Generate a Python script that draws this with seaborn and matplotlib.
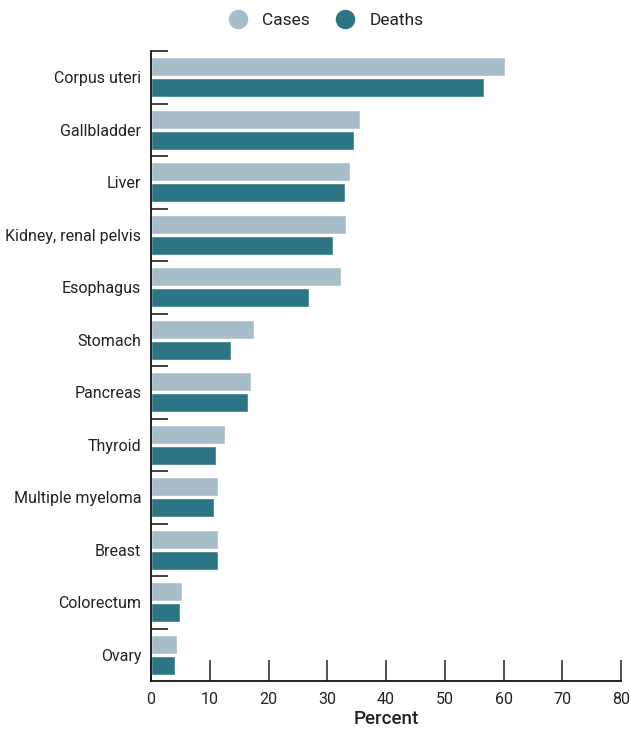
import matplotlib
matplotlib.use("Agg")
import matplotlib.pyplot as plt
import seaborn as sns
import pandas as pd
from matplotlib.lines import Line2D

categories = ["Corpus uteri", "Gallbladder", "Liver", "Kidney, renal pelvis", "Esophagus",
              "Stomach", "Pancreas", "Thyroid", "Multiple myeloma", "Breast",
              "Colorectum", "Ovary"]
cases = [60.3, 35.6, 33.9, 33.2, 32.3, 17.5, 17.0, 12.6, 11.4, 11.4, 5.3, 4.4]
deaths = [56.7, 34.6, 33.0, 31.0, 26.9, 13.6, 16.5, 11.1, 10.7, 11.4, 4.9, 4.0]
series = ["Cases", "Deaths"]
colors = ["#A7BEC8", "#2C7584"]
xticks = [0, 10, 20, 30, 40, 50, 60, 70, 80]

sns.set_theme(style="white")
plt.rcParams["font.family"] = ["Roboto", "DejaVu Sans"]

df = pd.DataFrame({
    "Site": categories * 2,
    "Percent": cases + deaths,
    "Type": ["Cases"] * len(categories) + ["Deaths"] * len(categories),
})

fig = plt.figure(figsize=(6.31, 7.30), dpi=100)
ax = fig.add_axes([151 / 631, 49 / 730, 470 / 631, 630 / 730])
sns.barplot(data=df, y="Site", x="Percent", hue="Type", order=categories,
            hue_order=series, palette=colors, width=0.8, gap=0.1,
            saturation=1, ax=ax, legend=False)

ax.set_xlim(0, 80)
ax.set_ylim(len(categories) - 0.5, -0.5)
ax.set_xticks(xticks)
ax.set_xticklabels([str(t) for t in xticks], fontsize=11.5, color="#222222")
ax.set_yticks(range(len(categories)))
ax.set_yticklabels(categories, fontsize=11.5, color="#222222")
ax.set_yticks([i - 0.5 for i in range(len(categories))], minor=True)
ax.tick_params(axis="y", which="major", length=0, pad=7)
ax.tick_params(axis="y", which="minor", length=12, width=1.3, direction="in", color="#333333", left=True)
ax.tick_params(axis="x", which="major", length=15, width=1.2, direction="in", color="#333333", pad=8, bottom=True)
ax.set_xlabel("Percent", fontsize=13.5, fontweight="medium", color="#222222", labelpad=2)
ax.set_ylabel("")
for s in ["top", "right"]:
    ax.spines[s].set_visible(False)
for s in ["left", "bottom"]:
    ax.spines[s].set_color("#111111")
    ax.spines[s].set_linewidth(1.3)

handles = [Line2D([], [], marker="o", linestyle="", markersize=13, markerfacecolor=c,
                  markeredgecolor=c) for c in colors]
fig.legend(handles, series, loc="center", bbox_to_anchor=(322 / 631, 1 - 20 / 730),
           ncol=2, frameon=False, fontsize=12.5, handletextpad=0.4, columnspacing=1.0,
           labelcolor="#222222")

fig.savefig("out.png", dpi=100)
